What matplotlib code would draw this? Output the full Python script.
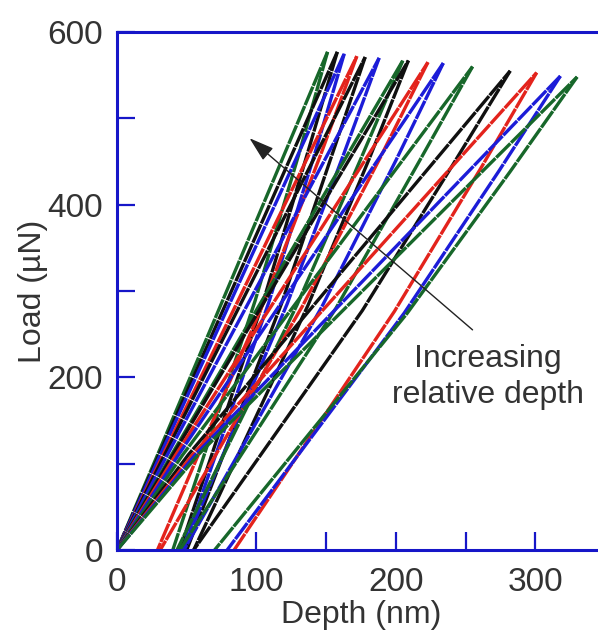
import matplotlib
matplotlib.use("Agg")
import matplotlib.pyplot as plt

plt.rcParams['font.family'] = ['Liberation Sans', 'DejaVu Sans']

# one entry per indent: colour, peak depth / load, residual depth
colors = ['green', 'black', 'blue', 'red', 'black', 'blue', 'green', 'black',
          'red', 'blue', 'green', 'black', 'red', 'blue', 'green']
h_max = [151, 158, 163, 172, 178, 188, 205, 209, 223, 234, 255, 282, 301, 318, 330]
p_max = [577, 577, 575, 572, 571, 570, 567, 567, 565, 564, 560, 555, 553, 549, 548]
h_res = [40, 45, 47, 29, 50, 47, 43, 55, 31, 48, 45, 55, 84, 79, 70]

# loading curve: depth reached at 110 uN
load_knee_p = 110
load_knee_h = [29, 30, 31, 33, 34, 36, 39, 40, 42, 44, 47, 51, 54, 56, 58]

# unloading curve: depth at half and at 80 % of peak load
unload_h50 = [99, 105, 109, 105, 118, 122, 129, 137, 133, 147, 157, 176, 199, 206, 208]
unload_h80 = [131, 137, 142, 146, 154, 162, 175, 181, 188, 200, 216, 240, 261, 274, 282]

col_map = {'green': '#17672a', 'black': '#101010', 'red': '#e3231c', 'blue': '#1c1cd8'}
spine_blue = '#1616c8'
text_col = '#333333'

fig = plt.figure(figsize=(5.98, 6.34), dpi=100)
ax = fig.add_axes([0.1957, 0.1325, 0.816, 0.817])

for i in range(len(h_max)):
    c = col_map[colors[i]]
    hx = [0, load_knee_h[i], h_max[i]]
    py = [0, load_knee_p, p_max[i]]
    ax.plot(hx, py, color=c, lw=2.4, ls=(0, (6, 0.3)), solid_capstyle='round')
    ux = [h_max[i], unload_h80[i], unload_h50[i], h_res[i]]
    uy = [p_max[i], 0.8 * p_max[i], 0.5 * p_max[i], 0]
    ax.plot(ux, uy, color=c, lw=2.4, ls=(0, (6, 0.3)), solid_capstyle='round')

ax.annotate('', xy=(95, 477), xytext=(255, 255),
            arrowprops=dict(arrowstyle='-|>,head_length=0.7,head_width=0.22',
                            color='#222222', lw=1.0,
                            mutation_scale=22, shrinkA=0, shrinkB=0))
ax.text(266, 200, 'Increasing\nrelative depth', ha='center', va='center',
        fontsize=23, color=text_col, linespacing=1.25)

ax.set_xlim(0, 350)
ax.set_ylim(0, 600)
ax.set_xticks([0, 100, 200, 300])
ax.set_xticks([50, 150, 250], minor=True)
ax.set_yticks([0, 200, 400, 600])
ax.set_yticks([100, 300, 500], minor=True)
ax.tick_params(which='both', direction='in', length=13, width=1.6, color=spine_blue,
               labelsize=24, labelcolor=text_col, pad=10)
ax.tick_params(axis='x', which='major', pad=12)
for s in ax.spines.values():
    s.set_color(spine_blue)
    s.set_linewidth(2.2)

ax.set_xlabel('Depth (nm)', fontsize=23, color=text_col, labelpad=2)
ax.set_ylabel('Load (µN)', fontsize=23, color=text_col, labelpad=0)

fig.savefig('out.png', dpi=100)
